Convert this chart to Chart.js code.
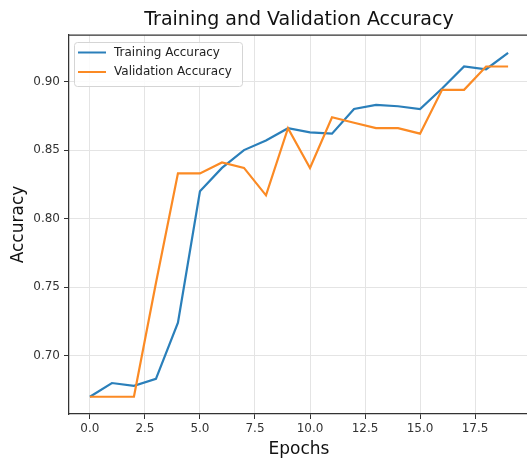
<!DOCTYPE html>
<html>
<head>
<meta charset="utf-8">
<title>Training and Validation Accuracy</title>
<script src="https://cdn.jsdelivr.net/npm/chart.js@4.4.0/dist/chart.umd.min.js"></script>
<style>
    html, body { margin: 0; padding: 0; background: #fff; overflow: hidden; }
    #wrap { width: 532px; height: 461px; }
</style>
</head>
<body>
<div id="wrap"><canvas id="accChart" width="532" height="461"></canvas></div>
<script>
// data
const epochs = [0, 1, 2, 3, 4, 5, 6, 7, 8, 9, 10, 11, 12, 13, 14, 15, 16, 17, 18, 19];
const trainAcc = [0.670, 0.680, 0.678, 0.683, 0.724, 0.820, 0.837, 0.850, 0.857, 0.866, 0.863, 0.862, 0.880, 0.883, 0.882, 0.880, 0.895, 0.911, 0.909, 0.921];
const valAcc = [0.670, 0.670, 0.670, 0.753, 0.833, 0.833, 0.841, 0.837, 0.817, 0.866, 0.837, 0.874, 0.870, 0.866, 0.866, 0.862, 0.894, 0.894, 0.911, 0.911];
const xTicks = [0, 2.5, 5, 7.5, 10, 12.5, 15, 17.5];
const yTicks = [0.70, 0.75, 0.80, 0.85, 0.90];

Chart.defaults.font.family = '"DejaVu Sans", sans-serif';

const toPoints = (vals) => epochs.map((e, i) => ({ x: e, y: vals[i] }));

// matplotlib-like frame: top + right spines
const frameBox = {
    id: 'frameBox',
    afterDraw(chart) {
        const { ctx, chartArea: a } = chart;
        ctx.save();
        ctx.strokeStyle = '#333';
        ctx.lineWidth = 1.25;
        ctx.beginPath();
        ctx.moveTo(a.left, a.top);
        ctx.lineTo(a.right, a.top);
        ctx.lineTo(a.right, a.bottom);
        ctx.stroke();
        ctx.restore();
    }
};

// legend inside the axes, upper left
const legendBox = {
    id: 'legendBox',
    afterDatasetsDraw(chart) {
        const { ctx, chartArea: a } = chart;
        const x = a.left + 5, y = a.top + 7, w = 168, h = 44;
        ctx.save();
        ctx.fillStyle = 'rgba(255,255,255,0.85)';
        ctx.strokeStyle = '#d5d5d5';
        ctx.lineWidth = 1;
        ctx.beginPath();
        ctx.roundRect(x + 0.5, y + 0.5, w, h, 3);
        ctx.fill();
        ctx.stroke();
        chart.data.datasets.forEach((ds, i) => {
            const ly = y + 10.5 + i * 19.5;
            ctx.strokeStyle = ds.borderColor;
            ctx.lineWidth = 2;
            ctx.beginPath();
            ctx.moveTo(x + 4, ly);
            ctx.lineTo(x + 32, ly);
            ctx.stroke();
            ctx.fillStyle = '#222';
            ctx.font = '12px "DejaVu Sans"';
            ctx.textBaseline = 'middle';
            ctx.textAlign = 'left';
            ctx.fillText(ds.label, x + 40, ly);
        });
        ctx.restore();
    }
};

new Chart(document.getElementById('accChart'), {
    type: 'line',
    data: {
        datasets: [{
            label: 'Training Accuracy',
            data: toPoints(trainAcc),
            borderColor: '#2a7fba',
            borderWidth: 2.2,
            pointRadius: 0,
            tension: 0,
            order: 1
        }, {
            label: 'Validation Accuracy',
            data: toPoints(valAcc),
            borderColor: '#fb8a24',
            borderWidth: 2.2,
            pointRadius: 0,
            tension: 0,
            order: 0
        }]
    },
    options: {
        responsive: false,
        animation: false,
        layout: { padding: { left: 0, right: 3, top: 0, bottom: 0 } },
        plugins: {
            legend: { display: false },
            tooltip: { enabled: false },
            title: {
                display: true,
                text: 'Training and Validation Accuracy',
                color: '#111',
                fullSize: false,
                font: { size: 19, weight: 'normal' },
                padding: { top: 8.5, bottom: 3.7 }
            }
        },
        scales: {
            x: {
                type: 'linear',
                min: -0.95,
                max: 19.95,
                afterBuildTicks: (s) => { s.ticks = xTicks.map(v => ({ value: v })); },
                afterFit: (s) => { s.height = 47; },
                ticks: {
                    color: '#333',
                    font: { size: 12 },
                    padding: 3,
                    maxRotation: 0,
                    autoSkip: false,
                    callback: (v) => v.toFixed(1)
                },
                grid: { color: '#e4e4e4', tickColor: '#333', tickLength: 5 },
                border: { color: '#333', width: 1.25 },
                title: {
                    display: true,
                    text: 'Epochs',
                    color: '#111',
                    font: { size: 17 },
                    padding: { top: 0, bottom: 1.3 }
                }
            },
            y: {
                min: 0.6574,
                max: 0.934,
                afterBuildTicks: (s) => { s.ticks = yTicks.map(v => ({ value: v })); },
                afterFit: (s) => { s.width = 69; },
                ticks: {
                    color: '#333',
                    font: { size: 12 },
                    padding: 4,
                    callback: (v) => v.toFixed(2)
                },
                grid: { color: '#e4e4e4', tickColor: '#333', tickLength: 5 },
                border: { color: '#333', width: 1.25 },
                title: {
                    display: true,
                    text: 'Accuracy',
                    color: '#111',
                    font: { size: 17 },
                    padding: { top: 8, bottom: 0 }
                }
            }
        }
    },
    plugins: [frameBox, legendBox]
});
</script>
</body>
</html>
